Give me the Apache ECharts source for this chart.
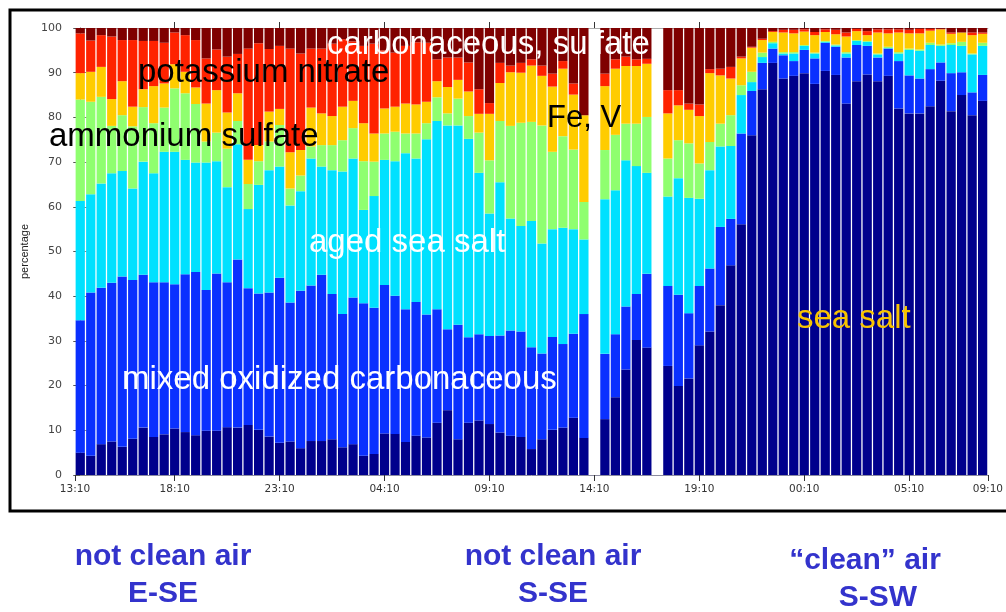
<!DOCTYPE html>
<html>
<head>
<meta charset="utf-8">
<script src="https://cdn.jsdelivr.net/npm/echarts@6/dist/echarts.min.js"></script>
<style>
  html, body { margin: 0; padding: 0; background: #fff; }
  #chart { width: 1006px; height: 612px; }
</style>
</head>
<body>
<div id="chart"></div>
<script>
// percentage of each particle type per time slot (bottom to top); null = no data
const seaSalt = [5.0, 4.3, 6.9, 7.5, 6.3, 8.1, 10.6, 8.5, 9.1, 10.4, 9.6, 8.9, 9.9, 9.9, 10.7, 10.6, 11.2, 10.1, 8.6, 7.2,
  7.5, 6.0, 7.6, 7.6, 8.0, 6.2, 6.9, 4.3, 4.7, 9.3, 9.2, 7.4, 8.8, 8.4, 11.7, 14.5, 8.0, 11.7, 12.2, 11.4,
  9.5, 8.8, 8.5, 5.8, 8.0, 10.1, 10.6, 12.8, 8.3, null, 12.5, 17.4, 23.6, 30.2, 28.5, null, 24.4, 19.9, 21.6, 29.0,
  32.1, 38.0, 46.9, 56.1, 76.0, 86.3, 92.2, 88.7, 89.3, 89.9, 87.5, 90.4, 89.5, 83.1, 88.1, 89.6, 88.1, 89.3, 82.0, 80.9,
  80.9, 82.5, 88.2, 81.4, 85.0, 80.5, 83.7]
const mixedOxCarb = [29.6, 36.5, 35.0, 35.5, 38.1, 35.5, 34.2, 34.6, 34.0, 32.3, 35.3, 36.5, 31.5, 35.2, 32.4, 37.6, 30.6, 30.5, 32.2, 36.9,
  31.1, 35.2, 34.8, 37.2, 32.5, 29.8, 32.8, 34.1, 32.7, 33.2, 30.9, 29.7, 29.9, 27.5, 25.4, 18.1, 25.6, 19.1, 19.3, 19.7,
  21.7, 23.5, 23.6, 22.8, 19.2, 20.8, 18.7, 18.8, 27.7, null, 14.6, 14.1, 14.1, 10.3, 16.5, null, 17.9, 20.4, 14.6, 13.3,
  14.1, 17.5, 10.4, 20.3, 9.9, 5.9, 3.2, 5.2, 3.3, 5.2, 5.7, 6.3, 6.3, 10.3, 8.1, 6.4, 5.3, 6.1, 10.6, 8.5,
  7.8, 8.3, 4.1, 8.5, 5.1, 5.1, 5.8]
const agedSeaSalt = [26.7, 22.0, 23.3, 24.5, 23.6, 20.5, 25.3, 24.4, 29.2, 29.6, 25.6, 24.5, 28.5, 25.1, 21.3, 25.8, 17.7, 24.3, 27.4, 24.9,
  21.7, 22.3, 28.4, 24.2, 27.7, 31.9, 31.1, 20.9, 25.0, 28.0, 30.1, 34.9, 32.1, 39.2, 42.1, 45.6, 44.6, 44.4, 36.1, 27.4,
  34.3, 25.1, 23.6, 28.2, 24.6, 24.1, 26.0, 23.4, 16.7, null, 34.6, 32.2, 32.7, 28.6, 22.6, null, 20.0, 26.1, 25.8, 19.5,
  22.0, 18.0, 16.3, 8.6, 2.0, 1.3, 1.2, 0.4, 1.7, 0.9, 1.1, 0.2, 0.3, 0.9, 0.9, 0.9, 0.7, 0.1, 1.7, 5.7,
  6.2, 5.4, 3.7, 6.3, 5.9, 8.5, 6.5]
const ammSulfate = [22.7, 20.7, 19.4, 10.6, 12.5, 13.9, 12.2, 11.2, 9.9, 14.2, 14.9, 13.1, 4.7, 6.4, 8.6, 5.2, 5.6, 5.3, 6.4, 9.3,
  3.8, 3.5, 2.7, 4.8, 5.6, 7.0, 6.8, 10.9, 7.7, 5.9, 6.6, 4.4, 5.6, 3.6, 5.3, 2.7, 6.0, 5.1, 9.0, 11.9,
  13.7, 20.7, 23.1, 22.2, 26.4, 17.3, 20.5, 17.8, 8.4, null, 11.0, 12.4, 8.2, 9.5, 12.5, null, 8.5, 8.5, 12.2, 7.9,
  6.3, 5.1, 6.9, 2.2, 2.3, 1.0, 0.3, 0.3, 0.3, 0.2, 0.2, 0.2, 0.2, 0.3, 0.2, 0.2, 0.2, 0.3, 0.3, 0.3,
  0.3, 0.5, 0.3, 0.4, 0.9, 0.2, 0.7]
const feV = [5.9, 6.7, 6.7, 6.0, 7.6, 4.4, 4.0, 8.3, 5.4, 5.4, 4.8, 3.7, 8.5, 9.5, 8.1, 6.2, 5.4, 3.6, 6.7, 3.6,
  8.1, 5.7, 8.7, 7.1, 6.5, 7.5, 6.1, 8.5, 6.3, 5.6, 5.6, 6.7, 6.5, 4.8, 3.6, 5.9, 4.2, 5.5, 4.2, 10.4,
  8.5, 12.0, 11.2, 12.6, 11.1, 14.6, 15.1, 12.3, 19.4, null, 14.3, 14.8, 12.9, 12.9, 11.9, null, 10.1, 7.8, 7.5, 10.6,
  15.4, 10.8, 8.2, 6.0, 5.4, 2.8, 2.2, 4.4, 4.2, 3.0, 3.9, 2.0, 2.3, 3.5, 2.0, 1.3, 4.7, 3.0, 4.4, 3.4,
  3.6, 2.7, 3.4, 2.1, 2.1, 4.1, 2.0]
const potNitrate = [8.9, 7.0, 7.1, 14.0, 9.2, 14.9, 10.8, 10.1, 9.1, 7.1, 8.2, 10.6, 10.1, 9.1, 12.5, 8.8, 24.9, 22.8, 14.0, 14.1,
  23.2, 21.6, 13.2, 14.5, 16.2, 15.1, 13.3, 17.3, 20.1, 13.0, 12.1, 12.9, 13.9, 13.2, 4.9, 6.6, 5.0, 6.5, 5.5, 2.4,
  4.5, 1.5, 2.2, 1.4, 2.3, 2.9, 1.7, 2.5, 0, null, 2.8, 2.1, 2.1, 1.5, 1.1, null, 5.2, 3.4, 1.4, 2.6,
  0.9, 1.5, 2.6, 0.4, 0.2, 0.3, 0.2, 0.6, 0.8, 0.5, 0.7, 0.6, 1.0, 0.9, 0.5, 0.9, 0.7, 0.9, 0.7, 0.8,
  1.0, 0.4, 0.1, 0.3, 0, 0.6, 0.3]
const carbSulfate = [1.2, 2.8, 1.6, 1.9, 2.7, 2.7, 2.9, 2.9, 3.3, 1.0, 1.6, 2.7, 6.8, 4.8, 6.4, 5.8, 4.6, 3.4, 4.7, 4.0,
  4.6, 5.7, 4.6, 4.6, 3.5, 2.5, 3.0, 4.0, 3.5, 5.0, 5.5, 4.0, 3.2, 3.3, 7.0, 6.6, 6.6, 7.7, 13.7, 16.8,
  7.8, 8.4, 7.8, 7.0, 8.4, 10.2, 7.4, 12.4, 19.5, null, 10.2, 7.0, 6.4, 7.0, 6.9, null, 13.9, 13.9, 16.9, 17.1,
  9.2, 9.1, 8.7, 6.4, 4.2, 2.4, 0.7, 0.4, 0.4, 0.3, 0.9, 0.3, 0.4, 1.0, 0.2, 0.7, 0.3, 0.3, 0.3, 0.4,
  0.2, 0.2, 0.2, 1.0, 1.0, 1.0, 1.0]

// time ticks, in bar-slot units (slot i is centred on i)
const tickPositions = [-0.5, 9, 19, 29, 39, 49, 59, 69, 79, 86.5]
const tickLabels = ['13:10', '18:10', '23:10', '04:10', '09:10', '14:10', '19:10', '00:10', '05:10', '09:10']

const layers = [
  { name: 'sea salt', data: seaSalt, color: '#00008c' },
  { name: 'mixed oxidized carbonaceous', data: mixedOxCarb, color: '#0a30ff' },
  { name: 'aged sea salt', data: agedSeaSalt, color: '#00e1ff' },
  { name: 'ammonium sulfate', data: ammSulfate, color: '#8fff6f' },
  { name: 'Fe, V', data: feV, color: '#ffcc00' },
  { name: 'potassium nitrate', data: potNitrate, color: '#ff2200' },
  { name: 'carbonaceous, sulfate', data: carbSulfate, color: '#7f0000' },
]

const slots = seaSalt.map((_, i) => String(i))
const labelFont = "'Liberation Sans', Arial, sans-serif"
const tickFont = "'DejaVu Sans', sans-serif"

const chart = echarts.init(document.getElementById('chart'), null, { renderer: 'canvas' })

const inChartText = (text, x, y, fill, size) => ({
  type: 'text',
  x: x,
  y: y,
  silent: true,
  z: 100,
  style: {
    text: text,
    fill: fill,
    fontSize: size || 33,
    fontFamily: labelFont,
    textAlign: 'left',
    textVerticalAlign: 'middle',
  },
})

const footText = (text, cx, y) => ({
  type: 'text',
  x: cx,
  y: y,
  silent: true,
  style: {
    text: text,
    fill: '#3333cc',
    fontSize: 30,
    fontWeight: 'bold',
    fontFamily: labelFont,
    textAlign: 'center',
    textVerticalAlign: 'middle',
  },
})

chart.setOption({
  animation: false,
  backgroundColor: '#fff',
  grid: { left: 75, top: 28, width: 913, height: 447 },
  xAxis: [
    { type: 'category', data: slots, show: false, boundaryGap: true },
    {
      type: 'value', min: -0.5, max: 86.5, position: 'bottom',
      axisLine: { show: true, lineStyle: { color: '#8c8ca0', width: 1 } },
      axisTick: { show: true, customValues: tickPositions, length: 6, lineStyle: { color: '#333' } },
      axisLabel: {
        customValues: tickPositions,
        formatter: (v) => tickLabels[tickPositions.indexOf(v)],
        fontSize: 10.5, color: '#333', margin: 9, fontFamily: tickFont,
      },
      splitLine: { show: false },
    },
    {
      type: 'value', min: -0.5, max: 86.5, position: 'top',
      axisLine: { show: true, lineStyle: { color: '#aaa', width: 1 } },
      axisTick: { show: true, customValues: tickPositions.slice(1, -1), length: 6, lineStyle: { color: '#333' } },
      axisLabel: { show: false },
      splitLine: { show: false },
    },
  ],
  yAxis: [
    {
      type: 'value', min: 0, max: 100, interval: 10, position: 'left',
      name: 'percentage', nameLocation: 'middle', nameGap: 45,
      nameTextStyle: { fontSize: 11, color: '#222', fontFamily: labelFont },
      axisLine: { show: true, lineStyle: { color: '#555', width: 1 } },
      axisTick: { show: true, length: 7, lineStyle: { color: '#555' } },
      axisLabel: { fontSize: 11, color: '#444', margin: 13, fontFamily: tickFont },
      splitLine: { show: false },
    },
    {
      type: 'value', min: 0, max: 100, interval: 10, position: 'right',
      axisLine: { show: true, lineStyle: { color: '#aaa', width: 1 } },
      axisTick: { show: true, length: 8, lineStyle: { color: '#888' } },
      axisLabel: { show: false },
      splitLine: { show: false },
    },
  ],
  series: layers.map((l) => ({
    type: 'bar',
    name: l.name,
    stack: 'total',
    xAxisIndex: 0,
    yAxisIndex: 0,
    data: l.data,
    barCategoryGap: '12%',
    itemStyle: { color: l.color },
    silent: true,
  })),
  graphic: [
    {
      type: 'rect', silent: true, z: -1,
      shape: { x: 10, y: 10, width: 1100, height: 501 },
      style: { fill: 'none', stroke: '#000', lineWidth: 3 },
    },
    inChartText('carbonaceous, sulfate', 327, 45, '#fff'),
    inChartText('potassium nitrate', 138, 73, '#000'),
    inChartText('ammonium sulfate', 49, 137, '#000'),
    inChartText('Fe, V', 547, 118, '#000', 31),
    inChartText('aged sea salt', 309, 243, '#fff'),
    inChartText('mixed oxidized carbonaceous', 122, 380, '#fff'),
    inChartText('sea salt', 797, 319, '#f8c400'),
    footText('not clean air', 163, 557),
    footText('E-SE', 163, 594),
    footText('not clean air', 553, 557),
    footText('S-SE', 553, 594),
    footText('\u201cclean\u201d air', 865, 561),
    footText('S-SW', 878, 598),
  ],
})
</script>
</body>
</html>
